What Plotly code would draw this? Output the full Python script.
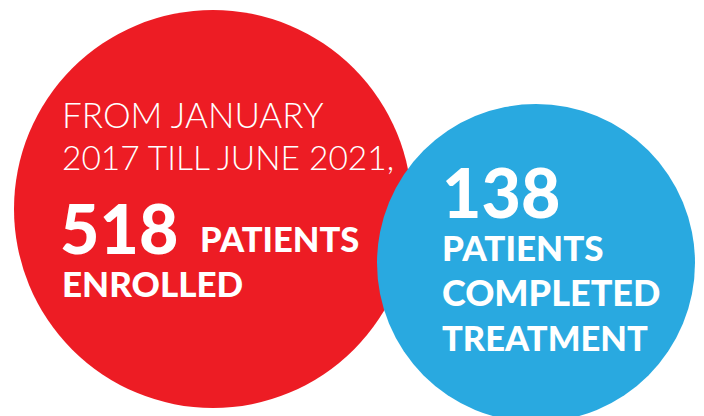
import plotly.graph_objects as go

# Data
circle_names = ["Enrolled", "Completed treatment"]
patient_counts = [518, 138]
period_lines = ["FROM JANUARY", "2017 TILL JUNE 2021,"]
enrolled_words = ["PATIENTS", "ENROLLED"]
completed_words = ["PATIENTS", "COMPLETED", "TREATMENT"]

RED = "#ED1C24"
BLUE = "#29A9E0"
FONT = "Lato"

fig = go.Figure()

# circles (center x, center y, radius) in pixel-like coordinates
geo = {"Enrolled": (213, 209, 199), "Completed treatment": (536, 263, 159)}
colors = {"Enrolled": RED, "Completed treatment": BLUE}
for name in circle_names:
    cx, cy, r = geo[name]
    fig.add_shape(type="circle", xref="x", yref="y",
                  x0=cx - r, x1=cx + r, y0=cy - r, y1=cy + r,
                  fillcolor=colors[name], line=dict(width=0), layer="below")

def txt(x, y, s, size, weight):
    fig.add_annotation(x=x, y=y, text=s, showarrow=False, xanchor="left", yanchor="middle",
                       xref="x", yref="y",
                       font=dict(family=FONT, size=size, color="white", weight=weight))

# red circle text
txt(60, 113.5, period_lines[0], 35, 300)
txt(60, 157, period_lines[1], 33.5, 300)
txt(58, 227.5, str(patient_counts[0]), 68, 900)
txt(198, 238, enrolled_words[0], 34.5, 900)
txt(60, 283, enrolled_words[1], 35, 900)

# blue circle text
txt(440, 191, str(patient_counts[1]), 68, 900)
txt(440, 246.5, completed_words[0], 35, 900)
txt(440, 292, completed_words[1], 36, 900)
txt(440, 337.5, completed_words[2], 34.5, 900)

fig.update_layout(width=704, height=416, margin=dict(l=0, r=0, t=0, b=0),
                  paper_bgcolor="white", plot_bgcolor="white", showlegend=False,
                  xaxis=dict(range=[0, 704], visible=False, fixedrange=True),
                  yaxis=dict(range=[416, 0], visible=False, fixedrange=True))
fig.write_html("out.html", config={"displayModeBar": False})
